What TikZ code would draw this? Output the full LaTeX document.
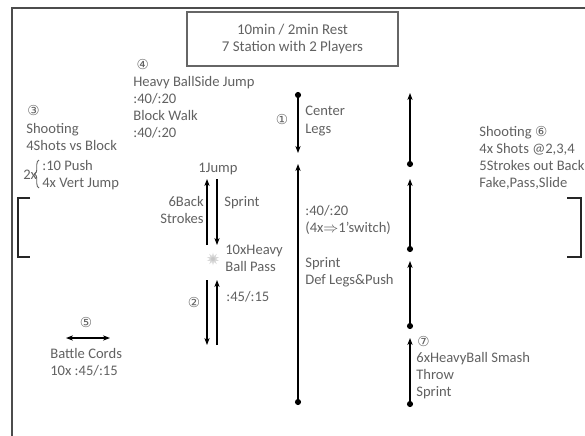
\documentclass[tikz,border=0pt]{standalone}
\usepackage{fontspec}
\setmainfont{Carlito}
\newfontfamily\circfont{DejaVu Sans}
\usepackage{xcolor}
\usetikzlibrary{positioning, arrows.meta, shapes.geometric, decorations.pathreplacing}

\newcommand{\stn}[1]{{\circfont\fontsize{7.8}{9}\selectfont #1}}

\begin{document}
\begin{tikzpicture}[
    x=0.02cm, y=-0.02cm,
    every node/.style={font=\fontsize{8.3}{9.7}\selectfont, text=black!62, inner sep=0pt},
    txt/.style={align=left, anchor=west},
    titlebox/.style={rectangle, draw=black!60, line width=0.6pt, align=center, minimum width=4.22cm, minimum height=1.08cm, font=\fontsize{8.5}{10.2}\selectfont},
    arr/.style={-{Stealth[length=4pt, width=3pt]}, line width=1.1pt},
    dotarr/.style={{Circle[length=3.4pt]}-{Stealth[length=4pt, width=3pt]}, line width=1.1pt},
    twoarr/.style={{Stealth[length=4pt, width=3pt]}-{Stealth[length=4pt, width=3pt]}, line width=1.1pt},
    brk/.style={line width=1.1pt, black!85},
    curly/.style={decorate, decoration={brace, amplitude=2.5pt}, black!62, line width=0.5pt},
]
    \useasboundingbox (0,0) rectangle (585,436);

    % --- page frame (top and left edges only) ---
    \draw[black!70, line width=1.2pt] (12,436) -- (12,8) -- (585,8);

    % --- title ---
    \node[titlebox] (title) at (292.5,39) {10min / 2min Rest\\7 Station with 2 Players};

    % --- station 3 (left) ---
    \node[txt] (st3num) at (27,111) {\stn{③}};
    \node[txt, anchor=north west] (st3) at (26,123) {Shooting\\4Shots vs Block};
    \node[txt] (st3x) at (23,175) {2x};
    \coordinate (brB) at (39,188);
    \coordinate (brT) at (39,160);
    \draw[curly] (brB) -- (brT);
    \node[txt] (st3rep) at (42,175) {:10 Push\\4x Vert Jump};

    % --- station 4 ---
    \node[txt, anchor=north west] (st4) at (133,59) {\ \stn{④}\\Heavy BallSide Jump\\:40/:20\\Block Walk\\:40/:20};

    % --- station 2 (1Jump / sprint / pass) ---
    \node (jump) at (218,169) {1Jump};
    \node[align=right, anchor=east] (back) at (204,210) {6Back\\Strokes};
    \node[txt] (sprint2) at (224,203) {Sprint};
    \node[star, star points=10, star point ratio=2.2, fill=gray!45, draw=gray!30, minimum size=0.2cm] (ball) at (213,259) {};
    \node[txt] (pass) at (225,258) {10xHeavy\\Ball Pass};
    \node (st2num) at (194,303) {\stn{②}};
    \node[txt] (rest2) at (226,297) {:45/:15};

    \coordinate (upS)  at (207,245);
    \coordinate (upE)  at (207,179);
    \coordinate (dnS)  at (217,179);
    \coordinate (dnE)  at (217,245);
    \coordinate (dn2S) at (207,280);
    \coordinate (dn2E) at (207,345);
    \coordinate (up2S) at (217,345);
    \coordinate (up2E) at (217,280);
    \draw[arr] (upS) -- (upE);
    \draw[arr] (dnS) -- (dnE);
    \draw[arr] (dn2S) -- (dn2E);
    \draw[arr] (up2S) -- (up2E);

    % --- station 1 (center) ---
    \node (st1num) at (282,120) {\stn{①}};
    \node[txt] (center) at (305,121) {Center\\Legs};
    \node[txt] (rest1) at (305,220) {:40/:20\\(4x$\Rightarrow$1'switch)};
    \node[txt] (sprint1) at (305,272) {Sprint\\Def Legs\&Push};

    \coordinate (c1S) at (298,92);
    \coordinate (c1E) at (298,153);
    \coordinate (c2S) at (298,405);
    \coordinate (c2E) at (298,164);
    \draw[dotarr] (c1S) -- (c1E);
    \draw[dotarr] (c2S) -- (c2E);

    % --- station 7 (right column) ---
    \coordinate (r1S) at (410,167);
    \coordinate (r1E) at (410,93);
    \coordinate (r2S) at (410,252);
    \coordinate (r2E) at (410,179);
    \coordinate (r3S) at (410,329);
    \coordinate (r3E) at (410,261);
    \coordinate (r4S) at (410,407);
    \coordinate (r4E) at (410,338);
    \draw[dotarr] (r1S) -- (r1E);
    \draw[dotarr] (r2S) -- (r2E);
    \draw[dotarr] (r3S) -- (r3E);
    \draw[dotarr] (r4S) -- (r4E);

    \node[txt] (st7num) at (417,342) {\stn{⑦}};
    \node[txt, anchor=north west] (st7) at (416,352) {6xHeavyBall Smash\\Throw\\Sprint};

    % --- station 6 (right) ---
    \node[txt, anchor=north west] (st6) at (479,126) {Shooting \stn{⑥}\\4x Shots @2,3,4\\5Strokes out Back\\Fake,Pass,Slide};

    % --- station 5 (battle cords) ---
    \node (st5num) at (86,323) {\stn{⑤}};
    \coordinate (bcL) at (66,338);
    \coordinate (bcR) at (110,338);
    \draw[twoarr] (bcL) -- (bcR);
    \node[txt, anchor=north west] (cords) at (50,348) {Battle Cords\\10x :45/:15};

    % --- court brackets ---
    \draw[brk] (30,198) -- (18,198) -- (18,257) -- (30,257);
    \draw[brk] (567,198) -- (581,198) -- (581,257) -- (567,257);
\end{tikzpicture}
\end{document}
